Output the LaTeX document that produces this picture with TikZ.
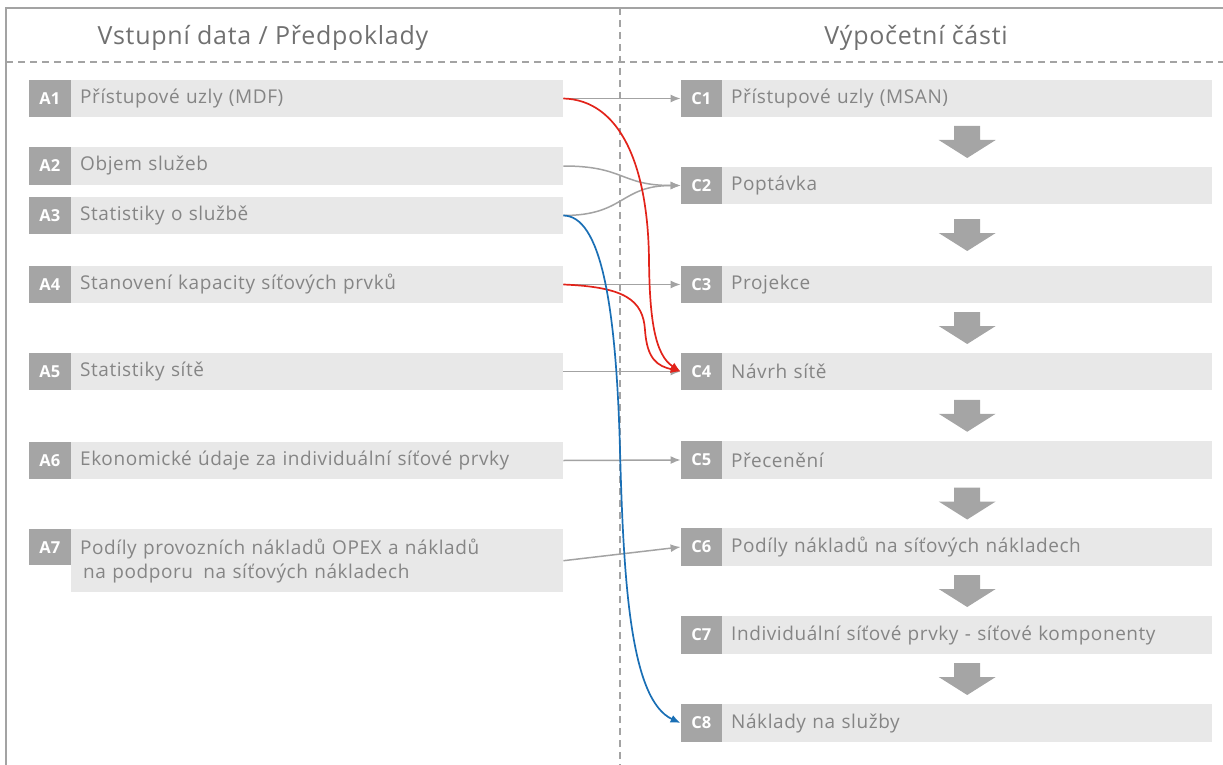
\documentclass[tikz,border=0pt]{standalone}
\usepackage{fontspec}
\setmainfont{Open Sans}[LetterSpace=3]
\newfontfamily\labelfont{Open Sans}
\usetikzlibrary{arrows.meta,calc}
\definecolor{lblgray}{HTML}{A5A5A5}
\definecolor{bodygray}{HTML}{E8E8E8}
\definecolor{txtgray}{HTML}{858585}
\definecolor{ttlgray}{HTML}{707070}
\definecolor{linegray}{HTML}{A3A3A3}
\definecolor{redline}{HTML}{E2231A}
\definecolor{blueline}{HTML}{1A6FB5}
\begin{document}
\begin{tikzpicture}[x=1pt,y=-1pt,
  lab/.style={fill=lblgray, text=white, font=\labelfont\fontsize{16.5}{16.5}\selectfont\bfseries,
    minimum height=37.5pt, inner sep=0pt},
  alab/.style={lab, minimum width=42pt},
  clab/.style={lab, minimum width=41pt},
  body/.style={fill=bodygray, text=txtgray, font=\fontsize{19}{24}\selectfont,
    minimum height=37.5pt, inner xsep=9pt, inner ysep=0pt, align=left},
  abody/.style={body, text width=474pt},
  cbody/.style={body, text width=472pt},
  title/.style={text=ttlgray, font=\fontsize{25}{26}\selectfont},
  frame/.style={draw=linegray, line width=2pt},
  sep/.style={draw=linegray, line width=1.3pt, dash pattern=on 7pt off 5pt},
  gline/.style={draw=linegray, line width=1.5pt, -{Latex[length=10pt,width=8pt]}},
  rline/.style={draw=redline, line width=1.7pt, -{Latex[length=10pt,width=8pt]}},
  bline/.style={draw=blueline, line width=1.7pt, -{Latex[length=10pt,width=8pt]}},
  downarr/.pic={\fill[lblgray] (-13,-16) -- (13,-16) -- (13,-2) -- (28.5,-2) -- (0,16)
    -- (-28.5,-2) -- (-13,-2) -- cycle;}
]
\useasboundingbox (0,0) rectangle (1223,765);

% frame and column separators
\draw[frame] (6,765) -- (6,8) -- (1223,8);
\draw[sep] (6,62) -- (1223,62);
\draw[sep] (620,8) -- (620,765);

% column headings
\node[title] (tL) at (263,38) {Vstupní data / Předpoklady};
\node[title] (tR) at (916,38) {Výpočetní části};

% input data A1--A7
\node[abody, anchor=west] (A1) at (71,98.5) {Přístupové uzly (MDF)};
\node[alab, anchor=east] (A1l) at (A1.west) {A1};
\node[abody, anchor=west] (A2) at (71,166) {Objem služeb};
\node[alab, anchor=east] (A2l) at (A2.west) {A2};
\node[abody, anchor=west] (A3) at (71,215.5) {Statistiky o službě};
\node[alab, anchor=east] (A3l) at (A3.west) {A3};
\node[abody, anchor=west] (A4) at (71,284.5) {Stanovení kapacity síťových prvků};
\node[alab, anchor=east] (A4l) at (A4.west) {A4};
\node[abody, anchor=west] (A5) at (71,371.5) {Statistiky sítě};
\node[alab, anchor=east] (A5l) at (A5.west) {A5};
\node[abody, anchor=west] (A6) at (71,460.5) {Ekonomické údaje za individuální síťové prvky};
\node[alab, anchor=east] (A6l) at (A6.west) {A6};
\node[abody, anchor=north west, minimum height=63pt] (A7) at (71,529)
  {Podíly provozních nákladů OPEX a nákladů\\\hspace*{3pt}na podporu\hspace{4pt} na síťových nákladech};
\node[alab, anchor=north east, minimum height=36pt] (A7l) at (A7.north west) {A7};

% calculation steps C1--C8
\node[cbody, anchor=west] (C1) at (722,98.5) {Přístupové uzly (MSAN)};
\node[clab, anchor=east] (C1l) at (C1.west) {C1};
\node[cbody, anchor=west] (C2) at (722,185.5) {Poptávka};
\node[clab, anchor=east] (C2l) at (C2.west) {C2};
\node[cbody, anchor=west] (C3) at (722,284.5) {Projekce};
\node[clab, anchor=east] (C3l) at (C3.west) {C3};
\node[cbody, anchor=west] (C4) at (722,371.5) {Návrh sítě};
\node[clab, anchor=east] (C4l) at (C4.west) {C4};
\node[cbody, anchor=west] (C5) at (722,460) {Přecenění};
\node[clab, anchor=east] (C5l) at (C5.west) {C5};
\node[cbody, anchor=west] (C6) at (722,547) {Podíly nákladů na síťových nákladech};
\node[clab, anchor=east] (C6l) at (C6.west) {C6};
\node[cbody, anchor=west] (C7) at (722,635) {Individuální síťové prvky - síťové komponenty};
\node[clab, anchor=east] (C7l) at (C7.west) {C7};
\node[cbody, anchor=west] (C8) at (722,723) {Náklady na služby};
\node[clab, anchor=east] (C8l) at (C8.west) {C8};

% flow between the calculation steps
\foreach \u/\v in {C1/C2,C2/C3,C3/C4,C4/C5,C5/C6,C6/C7,C7/C8}
  \pic at ($(\u.south)!0.5!(\v.north)$) {downarr};

% inputs feeding the calculation
\draw[gline] (A1.east) -- (C1l.west);
\draw[gline] (A2.east) .. controls (625,166) and (620,185.5) .. (C2l.west);
\draw[gline] (A3.east) .. controls (625,215.5) and (620,185.5) .. (C2l.west);
\draw[gline] (A4.east) -- (C3l.west);
\draw[gline] (A5.east) -- (C4l.west);
\draw[gline] (A6.east) -- (C5l.west);
\draw[gline] (A7.east) -- (C6l.west);

\draw[rline] (A1.east) .. controls (620,100) and (648,165) .. (649,260)
  .. controls (649.6,320) and (655,355) .. (C4l.west);
\draw[rline] (A4.east) .. controls (625,287) and (643,300) .. (645,330)
  .. controls (647,360) and (658,366) .. (C4l.west);
\draw[bline] (A3.east) .. controls (600,216) and (616,300) .. (620,450)
  .. controls (623.5,580) and (630,700) .. (C8l.west);
\end{tikzpicture}
\end{document}
